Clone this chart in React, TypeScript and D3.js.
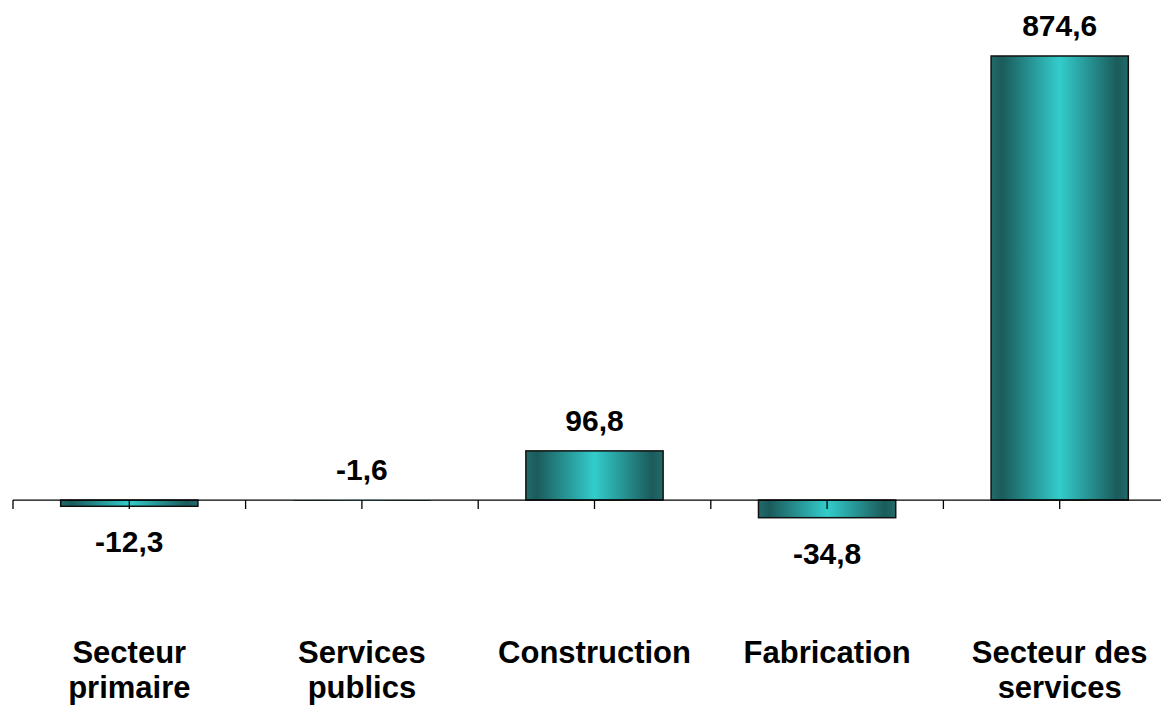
import React from "react";
import * as d3 from "d3";

const categories: string[][] = [
  ["Secteur", "primaire"],
  ["Services", "publics"],
  ["Construction"],
  ["Fabrication"],
  ["Secteur des", "services"],
];
const values: number[] = [-12.3, -1.6, 96.8, -34.8, 874.6];
const labels: string[] = ["-12,3", "-1,6", "96,8", "-34,8", "874,6"];

const W = 1161;
const H = 710;
const FONT = "'Liberation Sans', Arial, Helvetica, sans-serif";

export default function App() {
  const keys = categories.map((c) => c.join(" "));
  const x = d3.scaleBand<string>().domain(keys).range([13, 1176]).padding(0);
  const y = d3.scaleLinear().domain([-100, 900]).range([550.8, 43.1]);
  const y0 = y(0);
  const bw = x.bandwidth() * 0.59;
  const step = x.step();

  const ticks: number[] = [];
  keys.forEach((k) => {
    const s = x(k)!;
    ticks.push(s);
    ticks.push(s + step / 2);
  });

  return (
    <svg
      width={W}
      height={H}
      style={{ position: "absolute", left: 0, top: 0, background: "#fff" }}
    >
      <defs>
        <linearGradient id="barGrad" x1="0" x2="1" y1="0" y2="0">
          <stop offset="0" stopColor="#226b6b" />
          <stop offset="0.08" stopColor="#1b5b5b" />
          <stop offset="0.5" stopColor="#33cccc" />
          <stop offset="0.92" stopColor="#1b5b5b" />
          <stop offset="1" stopColor="#226b6b" />
        </linearGradient>
      </defs>
      {values.map((v, i) => {
        const cx = x(keys[i])! + step / 2;
        const top = Math.min(y(v), y0);
        const h = Math.abs(y(v) - y0);
        return (
          <rect
            key={"b" + i}
            x={cx - bw / 2}
            y={top}
            width={bw}
            height={h}
            fill="url(#barGrad)"
            stroke={h > 2 ? "#111" : "none"}
            strokeWidth={1.5}
          />
        );
      })}
      <line x1={13} x2={W} y1={y0} y2={y0} stroke="#000" strokeWidth={1.3} />
      {ticks.map((t, i) => (
        <line
          key={"t" + i}
          x1={t}
          x2={t}
          y1={y0}
          y2={y0 + 9}
          stroke="#000"
          strokeWidth={1.3}
        />
      ))}
      {values.map((v, i) => {
        const cx = x(keys[i])! + step / 2;
        const above = v > -5;
        const yy = above ? Math.min(y(v), y0) - 20 : y(v) + 46;
        return (
          <text
            key={"l" + i}
            x={cx}
            y={yy}
            textAnchor="middle"
            fontFamily={FONT}
            fontWeight="bold"
            fontSize={30}
            fill="#000"
          >
            {labels[i]}
          </text>
        );
      })}
      {categories.map((lines, i) => {
        const cx = x(keys[i])! + step / 2;
        return (
          <text
            key={"c" + i}
            x={cx}
            y={663}
            textAnchor="middle"
            fontFamily={FONT}
            fontWeight="bold"
            fontSize={31}
            fill="#000"
          >
            {lines.map((ln, j) => (
              <tspan key={j} x={cx} dy={j === 0 ? 0 : 35}>
                {ln}
              </tspan>
            ))}
          </text>
        );
      })}
    </svg>
  );
}
